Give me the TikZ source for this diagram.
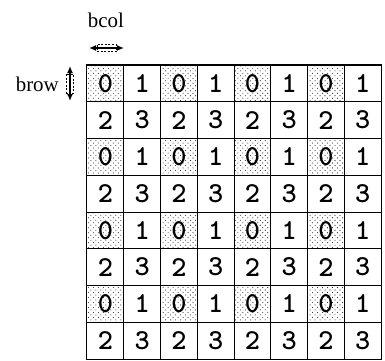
\documentclass[tikz,border=0pt]{standalone}
\usepackage{fontspec}
\setmainfont{Liberation Serif}
\usetikzlibrary{patterns,arrows.meta}
\pgfdeclarepatternformonly{stip}{\pgfqpoint{-1pt}{-1pt}}{\pgfqpoint{6pt}{6pt}}{\pgfqpoint{5pt}{5pt}}{%
  \pgfpathcircle{\pgfqpoint{1.25pt}{1.25pt}}{.55pt}%
  \pgfpathcircle{\pgfqpoint{3.75pt}{3.75pt}}{.55pt}%
  \pgfusepath{fill}}
\begin{document}
\begin{tikzpicture}[x=1bp,y=-1bp,
  cell/.style={draw, line width=1bp, minimum size=36.75bp, inner sep=0pt,
    font=\ttfamily\bfseries\fontsize{29}{29}\selectfont},
  shadedcell/.style={cell, pattern=stip, pattern color=black!85},
  lbl/.style={font=\fontsize{21}{21}\selectfont, inner sep=0pt},
  harrow/.style={line width=1.4bp, {Latex[length=7bp,width=6bp]}-{Latex[length=7bp,width=6bp]}},
  body/.style={line width=0.8bp, dash pattern=on 2bp off 1.5bp}]
\useasboundingbox (0,0) rectangle (385,361);
\foreach \r in {0,...,7}{
  \foreach \c in {0,...,7}{
    \pgfmathtruncatemacro\v{2*mod(\r,2)+mod(\c,2)}
    \ifnum\v=0
      \node[shadedcell] (n\r\c) at ({87+36.75*(\c+0.5)},{65+36.75*(\r+0.5)}) {\v};
    \else
      \node[cell] (n\r\c) at ({87+36.75*(\c+0.5)},{65+36.75*(\r+0.5)}) {\v};
    \fi
  }
}
\draw[line width=1.5bp] (n00.north west) rectangle (n77.south east);
% labels
\node[lbl] (bcol) at (106,20) {bcol};
\node[lbl, anchor=east] (brow) at (59,84) {brow};
% bcol arrow
\coordinate (bcl) at (89,48);
\coordinate (bcr) at (124,48);
\draw[harrow] (bcl) -- (bcr);
\draw[body] (97,44.5) rectangle (116,51.5);
% brow arrow
\coordinate (brt) at (70,66);
\coordinate (brb) at (70,101);
\draw[harrow] (brt) -- (brb);
\draw[body] (66.5,74) rectangle (73.5,93);
\end{tikzpicture}
\end{document}
